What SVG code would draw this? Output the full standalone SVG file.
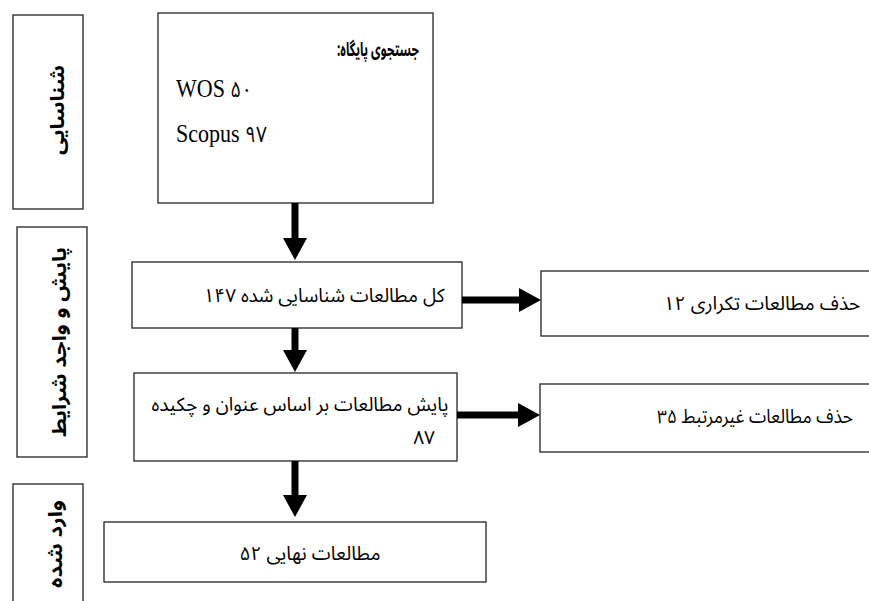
<svg xmlns="http://www.w3.org/2000/svg" width="869" height="601" viewBox="0 0 869 601">
<style>
.box{fill:#fff;stroke:#222;stroke-width:1.3}
.fa{font-family:"Noto Sans Arabic","DejaVu Sans",sans-serif;font-size:19px;fill:#000;text-anchor:middle}
.fab{font-family:"Noto Sans Arabic","DejaVu Sans",sans-serif;font-size:19px;font-weight:bold;fill:#000;text-anchor:middle}
.lat{font-family:"Liberation Serif",serif;font-size:22px;fill:#000}
.dig{font-family:"Noto Sans Arabic","DejaVu Sans",sans-serif;font-size:19px}
.conn{stroke:#000;stroke-width:7;fill:none}
</style>
<defs>
<marker id="ah" markerUnits="userSpaceOnUse" markerWidth="22" markerHeight="24" viewBox="0 0 22 24" refX="1" refY="12" orient="auto">
<path d="M0,0 L22,12 L0,24 Z" fill="#000"/>
</marker>
</defs>
<rect width="869" height="601" fill="#fff"/>
<g id="label-identification">
<rect class="box" x="13" y="15" width="70" height="194"/>
<text class="fab" transform="translate(64,110) rotate(-90)" textLength="90" lengthAdjust="spacingAndGlyphs" direction="rtl">شناسایی</text>
</g>
<g id="label-screening">
<rect class="box" x="17" y="227" width="70" height="230"/>
<text class="fab" transform="translate(66,342) rotate(-90)" textLength="190" lengthAdjust="spacingAndGlyphs" direction="rtl">پایش و واجد شرایط</text>
</g>
<g id="label-included">
<rect class="box" x="13" y="484" width="70" height="130"/>
<text class="fab" transform="translate(62,544) rotate(-90)" textLength="88" lengthAdjust="spacingAndGlyphs" direction="rtl">وارد شده</text>
</g>
<g id="node-search">
<rect class="box" x="158" y="13" width="275" height="190"/>
<text class="fab" x="378" y="56" font-size="22" direction="rtl" textLength="82" lengthAdjust="spacingAndGlyphs">جستجوی پایگاه:</text>
<text class="lat" transform="translate(176,97) scale(1,1.18)">WOS <tspan class="dig">۵۰</tspan></text>
<text class="lat" transform="translate(176,142) scale(1,1.18)">Scopus <tspan class="dig">۹۷</tspan></text>
</g>
<g id="node-total">
<rect class="box" x="132" y="262" width="330" height="66"/>
<text class="fa" x="324" y="302" direction="rtl" textLength="241" lengthAdjust="spacingAndGlyphs">کل مطالعات شناسایی شده ۱۴۷</text>
</g>
<g id="node-duplicates">
<rect class="box" x="541" y="271" width="330" height="65"/>
<text class="fa" x="762" y="310" direction="rtl" textLength="197" lengthAdjust="spacingAndGlyphs">حذف مطالعات تکراری ۱۲</text>
</g>
<g id="node-screening">
<rect class="box" x="134" y="373" width="323" height="88"/>
<text class="fa" direction="rtl"><tspan x="300" y="411" textLength="297" lengthAdjust="spacingAndGlyphs">پایش مطالعات بر اساس عنوان و چکیده</tspan><tspan x="424" y="444">۸۷</tspan></text>
</g>
<g id="node-irrelevant">
<rect class="box" x="540" y="384" width="331" height="68"/>
<text class="fa" x="755" y="423" direction="rtl" textLength="196" lengthAdjust="spacingAndGlyphs">حذف مطالعات غیرمرتبط ۳۵</text>
</g>
<g id="node-final">
<rect class="box" x="104" y="522" width="382" height="60"/>
<text class="fa" x="310" y="560" direction="rtl" textLength="141" lengthAdjust="spacingAndGlyphs">مطالعات نهایی ۵۲</text>
</g>
<g id="connectors">
<line class="conn" x1="295" y1="203" x2="295" y2="239" marker-end="url(#ah)"/>
<line class="conn" x1="295" y1="328" x2="295" y2="351" marker-end="url(#ah)"/>
<line class="conn" x1="295" y1="461" x2="295" y2="496" marker-end="url(#ah)"/>
<line class="conn" x1="462" y1="300" x2="520" y2="300" marker-end="url(#ah)"/>
<line class="conn" x1="457" y1="415" x2="519" y2="415" marker-end="url(#ah)"/>
</g>
</svg>
